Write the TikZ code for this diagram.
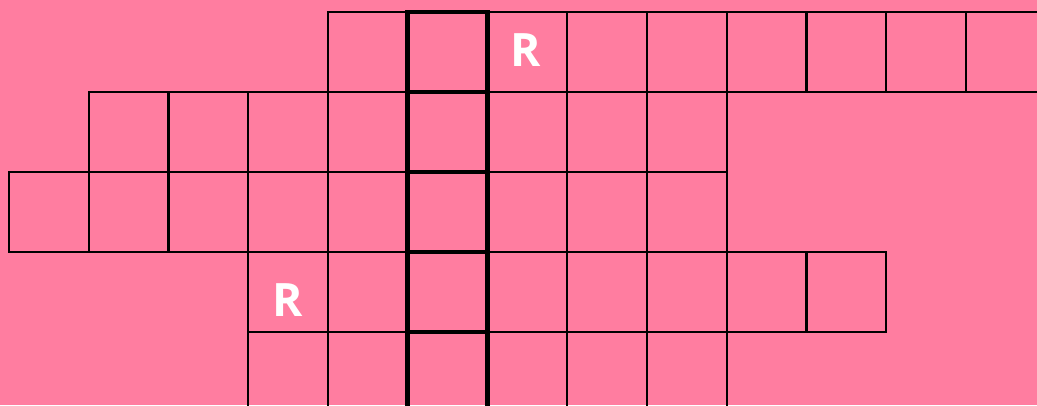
\documentclass[tikz,border=0pt]{standalone}
\usepackage{fontspec}
\newfontfamily\letterfont{Open Sans}
\definecolor{crosspink}{RGB}{255,125,160}
\tikzset{
  cell/.style={draw=black, line width=2.4pt},
  wordcol/.style={draw=black, line width=4.6pt},
  letter/.style={text=white, font=\letterfont\bfseries\fontsize{46}{46}\selectfont, inner sep=0pt}
}
\begin{document}
\begin{tikzpicture}[x=1pt,y=-1pt]
            % background
            \fill[crosspink] (0,0) rectangle (1037,405);
            \useasboundingbox (0,0) rectangle (1037,405);
            \begin{scope}[shift={(9,12)},x=79.75pt,y=-80pt]
            % rows of the grid
            \foreach \c in {4,...,12} {\draw[cell] (\c,0) rectangle +(1,1);}
            \foreach \c in {1,...,8} {\draw[cell] (\c,1) rectangle +(1,1);}
            \foreach \c in {0,...,8} {\draw[cell] (\c,2) rectangle +(1,1);}
            \foreach \c in {3,...,10} {\draw[cell] (\c,3) rectangle +(1,1);}
            \foreach \c in {3,...,8} {\draw[cell] (\c,4) rectangle +(1,1);}
            % the solution column
            \foreach \r in {0,...,4} {\draw[wordcol] (5,\r) rectangle +(1,1);}
            % letters
            \node[letter] (r1) at (6.48,0.47) {R};
            \node[letter] (r2) at (3.5,3.6) {R};
            \end{scope}
        \end{tikzpicture}
\end{document}
